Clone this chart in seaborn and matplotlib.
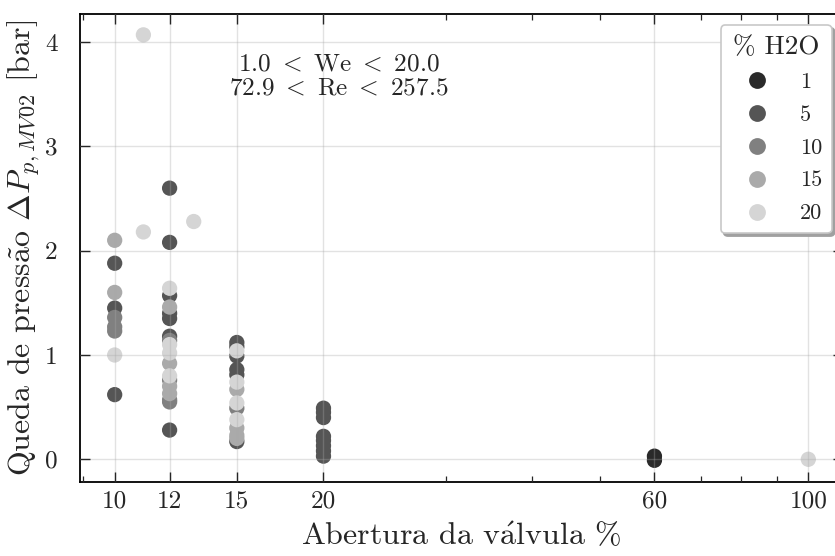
import numpy as np
import pandas as pd
import matplotlib
matplotlib.use('Agg')
import matplotlib.pyplot as plt
import seaborn as sns
from matplotlib.ticker import FixedLocator, FixedFormatter, NullFormatter, LogLocator

# ---------------- data ----------------
h2o_levels = ['1', '5', '10', '15', '20']

x_h1 = [60, 60]
y_h1 = [0.03, -0.01]

x_h5 = [10, 10, 10,
        12, 12, 12, 12, 12, 12, 12,
        15, 15, 15, 15, 15, 15,
        20, 20, 20, 20, 20, 20, 20, 20]
y_h5 = [1.88, 1.45, 0.62,
        2.60, 2.08, 1.57, 1.40, 1.35, 1.18, 0.28,
        1.12, 1.08, 0.99, 0.86, 0.81, 0.17,
        0.49, 0.45, 0.40, 0.22, 0.18, 0.13, 0.08, 0.03]

x_h10 = [10, 10, 10, 12, 12, 12, 12, 15]
y_h10 = [1.36, 1.27, 1.23, 1.14, 0.76, 0.57, 0.55, 0.49]

x_h15 = [10, 10, 12, 12, 12, 12, 15, 15, 15, 15]
y_h15 = [2.10, 1.60, 1.46, 0.92, 0.70, 0.63, 0.67, 0.30, 0.23, 0.20]

x_h20 = [10, 11, 11, 12, 12, 12, 12, 13, 15, 15, 15, 15, 100]
y_h20 = [1.00, 4.07, 2.18, 1.64, 1.10, 1.02, 0.80, 2.28, 1.04, 0.74, 0.54, 0.38, 0.00]

x_ticks = [10, 12, 15, 20, 60, 100]
x_tick_labels = ['10', '12', '15', '20', '60', '100']
y_ticks = [0, 1, 2, 3, 4]
y_tick_labels = ['0', '1', '2', '3', '4']

frames = []
for lvl, xs, ys in zip(h2o_levels, [x_h1, x_h5, x_h10, x_h15, x_h20],
                       [y_h1, y_h5, y_h10, y_h15, y_h20]):
    frames.append(pd.DataFrame({'abertura': xs, 'dp': ys, 'h2o': lvl}))
df = pd.concat(frames, ignore_index=True)

# ---------------- style ----------------
sns.set_theme(style='white')
plt.rcParams['font.family'] = ['cmr10', 'DejaVu Serif']
plt.rcParams['mathtext.fontset'] = 'cm'
plt.rcParams['axes.unicode_minus'] = False
plt.rcParams['axes.formatter.use_mathtext'] = True

fig = plt.figure(figsize=(8.35, 5.56), dpi=100)
ax = fig.add_axes([80 / 835, (556 - 481.7) / 556, 763 / 835, 467.7 / 556])

palette = sns.color_palette('gray', 5)
sns.scatterplot(data=df, x='abertura', y='dp', hue='h2o', hue_order=h2o_levels,
                palette=palette, s=121, linewidth=0, ax=ax, legend=True)

ax.set_xscale('log')
ax.set_xlim(10 ** 0.95, 10 ** 2.05)
ax.set_ylim(-0.215, 4.27)

ax.xaxis.set_major_locator(FixedLocator(x_ticks))
ax.xaxis.set_major_formatter(FixedFormatter(x_tick_labels))
ax.xaxis.set_minor_locator(LogLocator(base=10, subs=np.arange(2, 10)))
ax.xaxis.set_minor_formatter(NullFormatter())
ax.yaxis.set_major_locator(FixedLocator(y_ticks))
ax.yaxis.set_major_formatter(FixedFormatter(y_tick_labels))

ax.tick_params(axis='both', which='major', direction='in', length=7, width=1.0,
               labelsize=18.2, top=True, right=True, bottom=True, left=True)
ax.tick_params(axis='x', which='major', pad=6.5)
ax.tick_params(axis='y', which='major', pad=16)
ax.tick_params(axis='x', which='minor', direction='in', length=4, width=0.9,
               top=True, bottom=True)
for sp in ax.spines.values():
    sp.set_color('black')
    sp.set_linewidth(1.3)

ax.set_axisbelow(False)
ax.grid(True, which='major', color='#a8a8a8', alpha=0.33, linewidth=1.0)

ax.set_xlabel(r'Abertura da v$\acute{\mathrm{a}}$lvula %', fontsize=23, labelpad=6)
ax.set_ylabel(r'Queda de press$\tilde{\mathrm{a}}$o $\Delta P_{p,MV02}$ [bar]',
              fontsize=23, labelpad=2)

ax.text(0.3395, 0.915,
        r'$\mathrm{1.0\ <\ We\ <\ 20.0}$' + '\n' + r'$\mathrm{72.9\ <\ Re\ <\ 257.5}$',
        transform=ax.transAxes, ha='center', va='top', multialignment='center',
        fontsize=18.2, linespacing=1.1)

handles, labels = ax.get_legend_handles_labels()
leg = ax.legend(handles, labels, title='% H2O', loc='upper right', fontsize=16,
                title_fontsize=19.5, frameon=True, fancybox=True,
                shadow={'color': '#a0a0a0', 'alpha': 1},
                framealpha=1, edgecolor='#c8c8c8', borderpad=0.45,
                labelspacing=0.6, handlelength=2.4, handletextpad=0.7,
                markerscale=1.1)
leg.get_frame().set_linewidth(1.2)

fig.savefig('out.png', dpi=100)
